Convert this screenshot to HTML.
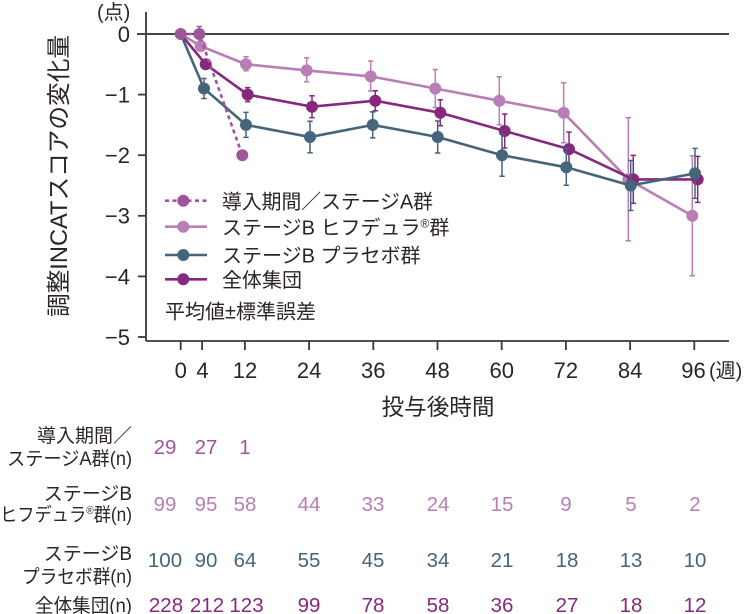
<!DOCTYPE html>
<html><head><meta charset="utf-8">
<style>
html,body{margin:0;padding:0;background:#fff;}
svg{display:block;}
text{font-family:"Liberation Sans","Noto Sans CJK JP",sans-serif;fill:#2b2624;}
.j{font-family:"Noto Sans CJK JP","Liberation Sans",sans-serif;}
</style></head><body>
<svg width="745" height="614" viewBox="0 0 745 614" xmlns="http://www.w3.org/2000/svg">
<!-- axes -->
<g stroke="#3d3735" stroke-width="1.8" fill="none">
<line x1="146" y1="12" x2="146" y2="341"/>
<line x1="146" y1="341" x2="729" y2="341"/>
<line x1="138" y1="94.6" x2="146" y2="94.6"/>
<line x1="138" y1="155.2" x2="146" y2="155.2"/>
<line x1="138" y1="215.8" x2="146" y2="215.8"/>
<line x1="138" y1="276.4" x2="146" y2="276.4"/>
<line x1="138" y1="337" x2="146" y2="337"/>
<line x1="180.7" y1="341" x2="180.7" y2="350"/>
<line x1="202.1" y1="341" x2="202.1" y2="350"/>
<line x1="244.9" y1="341" x2="244.9" y2="350"/>
<line x1="309.1" y1="341" x2="309.1" y2="350"/>
<line x1="373.3" y1="341" x2="373.3" y2="350"/>
<line x1="437.5" y1="341" x2="437.5" y2="350"/>
<line x1="501.7" y1="341" x2="501.7" y2="350"/>
<line x1="565.9" y1="341" x2="565.9" y2="350"/>
<line x1="630.1" y1="341" x2="630.1" y2="350"/>
<line x1="694.3" y1="341" x2="694.3" y2="350"/>
</g>
<line x1="137" y1="34" x2="729" y2="34" stroke="#4a4340" stroke-width="2"/>

<!-- y tick labels -->
<g font-size="22" text-anchor="end">
<text x="130" y="42">0</text>
<text x="130" y="102.5">−1</text>
<text x="130" y="163">−2</text>
<text x="130" y="223.7">−3</text>
<text x="130" y="284.3">−4</text>
<text x="130" y="345">−5</text>
</g>
<text x="97" y="19" font-size="20">(点)</text>
<text transform="translate(67,176) rotate(-90)" font-size="24" text-anchor="middle" textLength="282" lengthAdjust="spacingAndGlyphs">調整INCATスコアの変化量</text>

<!-- x tick labels -->
<g font-size="22" text-anchor="middle">
<text x="180.7" y="378">0</text>
<text x="202.5" y="378">4</text>
<text x="245" y="378">12</text>
<text x="309.1" y="378">24</text>
<text x="373.3" y="378">36</text>
<text x="437.5" y="378">48</text>
<text x="501.7" y="378">60</text>
<text x="565.9" y="378">72</text>
<text x="630.1" y="378">84</text>
<text x="693.5" y="378">96</text>
</g>
<text x="709" y="377.5" font-size="20">(週)</text>
<text x="438" y="415" font-size="22.5" text-anchor="middle" textLength="113" lengthAdjust="spacingAndGlyphs">投与後時間</text>

<!-- Hifdura series -->
<g stroke="#b77fb5" fill="#b77fb5">
<g stroke-width="1.5">
<path d="M200.7 41.6V49.6M198 41.6h5.4M198 49.6h5.4"/>
<path d="M246 56.8V70.8M243.3 56.8h5.4M243.3 70.8h5.4"/>
<path d="M306.7 57.9V81.9M304 57.9h5.4M304 81.9h5.4"/>
<path d="M370.7 61V91M368 61h5.4M368 91h5.4"/>
<path d="M435.3 69.5V107.5M432.6 69.5h5.4M432.6 107.5h5.4"/>
<path d="M499.3 76.7V124.7M496.6 76.7h5.4M496.6 124.7h5.4"/>
<path d="M563.7 82.8V142.8M561 82.8h5.4M561 142.8h5.4"/>
<path d="M628.3 117.8V240.8M625.6 117.8h5.4M625.6 240.8h5.4"/>
<path d="M692.3 155.8V275.8M689.6 155.8h5.4M689.6 275.8h5.4"/>
</g>
<polyline fill="none" stroke-width="2.6" points="180.7,34 200.7,46.1 246,64.3 306.7,70.4 370.7,76.4 435.3,88.5 499.3,100.7 563.7,112.8 628.3,179.4 692.3,215.8"/>
<g stroke="none">
<circle cx="200.7" cy="46.1" r="6"/><circle cx="246" cy="64.3" r="6"/><circle cx="306.7" cy="70.4" r="6"/><circle cx="370.7" cy="76.4" r="6"/><circle cx="435.3" cy="88.5" r="6"/><circle cx="499.3" cy="100.7" r="6"/><circle cx="563.7" cy="112.8" r="6"/><circle cx="628.3" cy="179.4" r="6"/><circle cx="692.3" cy="215.8" r="6"/>
</g>
</g>

<!-- Overall series -->
<g stroke="#86287e" fill="#86287e">
<g stroke-width="1.5">
<path d="M205.7 60.3V68.3M203 60.3h5.4M203 68.3h5.4"/>
<path d="M247.7 87.6V101.6M245 87.6h5.4M245 101.6h5.4"/>
<path d="M312 95.7V117.7M309.3 95.7h5.4M309.3 117.7h5.4"/>
<path d="M375.3 90.7V110.7M372.6 90.7h5.4M372.6 110.7h5.4"/>
<path d="M440.3 99.8V125.8M437.6 99.8h5.4M437.6 125.8h5.4"/>
<path d="M504.7 114V148M502 114h5.4M502 148h5.4"/>
<path d="M569 132.1V166.1M566.3 132.1h5.4M566.3 166.1h5.4"/>
<path d="M633.3 155.4V203.4M630.6 155.4h5.4M630.6 203.4h5.4"/>
<path d="M697.7 156.4V202.4M695 156.4h5.4M695 202.4h5.4"/>
</g>
<polyline fill="none" stroke-width="2.6" points="180.7,34 205.7,64.3 247.7,94.6 312,106.7 375.3,100.7 440.3,112.8 504.7,131 569,149.1 633.3,179.4 697.7,179.4"/>
<g stroke="none">
<circle cx="205.7" cy="64.3" r="6"/><circle cx="247.7" cy="94.6" r="6"/><circle cx="312" cy="106.7" r="6"/><circle cx="375.3" cy="100.7" r="6"/><circle cx="440.3" cy="112.8" r="6"/><circle cx="504.7" cy="131" r="6"/><circle cx="569" cy="149.1" r="6"/><circle cx="633.3" cy="179.4" r="6"/><circle cx="697.7" cy="179.4" r="6"/>
</g>
</g>

<!-- Placebo series -->
<g stroke="#44657a" fill="#44657a">
<g stroke-width="1.5">
<path d="M204 78.5V98.5M201.3 78.5h5.4M201.3 98.5h5.4"/>
<path d="M246 112.4V137.4M243.3 112.4h5.4M243.3 137.4h5.4"/>
<path d="M310 121.3V152.7M307.3 121.3h5.4M307.3 152.7h5.4"/>
<path d="M372.7 111.9V137.9M370 111.9h5.4M370 137.9h5.4"/>
<path d="M437.7 121V153M435 121h5.4M435 153h5.4"/>
<path d="M502 134.2V176.2M499.3 134.2h5.4M499.3 176.2h5.4"/>
<path d="M566.3 148.3V185.3M563.6 148.3h5.4M563.6 185.3h5.4"/>
<path d="M630.7 160.5V210.5M628 160.5h5.4M628 210.5h5.4"/>
<path d="M695 148.4V198.4M692.3 148.4h5.4M692.3 198.4h5.4"/>
</g>
<polyline fill="none" stroke-width="2.6" points="180.7,34 204,88.5 246,124.9 310,137 372.7,124.9 437.7,137 502,155.2 566.3,167.3 630.7,185.5 695,173.4"/>
<g stroke="none">
<circle cx="204" cy="88.5" r="6"/><circle cx="246" cy="124.9" r="6"/><circle cx="310" cy="137" r="6"/><circle cx="372.7" cy="124.9" r="6"/><circle cx="437.7" cy="137" r="6"/><circle cx="502" cy="155.2" r="6"/><circle cx="566.3" cy="167.3" r="6"/><circle cx="630.7" cy="185.5" r="6"/><circle cx="695" cy="173.4" r="6"/>
</g>
</g>

<!-- Stage A series -->
<g stroke="#a0559b" fill="#a0559b">
<path stroke-width="1.5" d="M199.3 26.5V41.5M196.6 26.5h5.4"/>
<polyline fill="none" stroke-width="2.6" stroke-dasharray="4,3.5" points="180.7,34 199.3,34 242.3,155.2"/>
<g stroke="none">
<circle cx="180.7" cy="34" r="6"/><circle cx="199.3" cy="34" r="6"/><circle cx="242.3" cy="155.2" r="6"/>
</g>
</g>

<!-- legend -->
<line x1="165" y1="200.7" x2="207" y2="200.7" stroke="#a0559b" stroke-width="2.6" stroke-dasharray="4,3.5"/>
<circle cx="183.3" cy="200.7" r="6" fill="#a0559b"/>
<line x1="165" y1="226.7" x2="207" y2="226.7" stroke="#b77fb5" stroke-width="2.6"/>
<circle cx="183.3" cy="226.7" r="6" fill="#b77fb5"/>
<line x1="165" y1="255" x2="207" y2="255" stroke="#44657a" stroke-width="2.6"/>
<circle cx="183.3" cy="255" r="6" fill="#44657a"/>
<line x1="165" y1="279.3" x2="207" y2="279.3" stroke="#86287e" stroke-width="2.6"/>
<circle cx="183.3" cy="279.3" r="6" fill="#86287e"/>
<g font-size="20">
<text x="222" y="208.5" textLength="211" lengthAdjust="spacingAndGlyphs">導入期間／ステージA群</text>
<text x="222" y="234.5">ステージB ヒフデュラ<tspan font-size="12" dy="-7">®</tspan><tspan dy="7">群</tspan></text>
<text x="222" y="262.5">ステージB プラセボ群</text>
<text x="222" y="287">全体集団</text>
<text x="165" y="318.5">平均値±標準誤差</text>
</g>

<!-- table labels -->
<g font-size="19" text-anchor="end">
<text x="132" y="442">導入期間／</text>
<text x="132" y="465" textLength="125" lengthAdjust="spacingAndGlyphs">ステージA群(n)</text>
<text x="132" y="500">ステージB</text>
<text x="132" y="521" textLength="132" lengthAdjust="spacingAndGlyphs">ヒフデュラ<tspan font-size="11" dy="-7">®</tspan><tspan dy="7">群(n)</tspan></text>
<text x="132" y="560">ステージB</text>
<text x="132" y="583" textLength="110" lengthAdjust="spacingAndGlyphs">プラセボ群(n)</text>
<text x="132" y="612" textLength="97" lengthAdjust="spacingAndGlyphs">全体集団(n)</text>
</g>

<!-- table numbers -->
<g font-size="20.5" text-anchor="middle">
<text x="165" y="454" style="fill:#a0559b">29</text>
<text x="206" y="454" style="fill:#a0559b">27</text>
<text x="245" y="454" style="fill:#a0559b">1</text>

<text x="165" y="511" style="fill:#b77fb5">99</text>
<text x="206" y="511" style="fill:#b77fb5">95</text>
<text x="245" y="511" style="fill:#b77fb5">58</text>
<text x="309" y="511" style="fill:#b77fb5">44</text>
<text x="373" y="511" style="fill:#b77fb5">33</text>
<text x="438" y="511" style="fill:#b77fb5">24</text>
<text x="502" y="511" style="fill:#b77fb5">15</text>
<text x="566" y="511" style="fill:#b77fb5">9</text>
<text x="631" y="511" style="fill:#b77fb5">5</text>
<text x="695" y="511" style="fill:#b77fb5">2</text>

<text x="165" y="567" style="fill:#44657a">100</text>
<text x="206" y="567" style="fill:#44657a">90</text>
<text x="245" y="567" style="fill:#44657a">64</text>
<text x="309" y="567" style="fill:#44657a">55</text>
<text x="373" y="567" style="fill:#44657a">45</text>
<text x="438" y="567" style="fill:#44657a">34</text>
<text x="502" y="567" style="fill:#44657a">21</text>
<text x="567" y="567" style="fill:#44657a">18</text>
<text x="631" y="567" style="fill:#44657a">13</text>
<text x="695" y="567" style="fill:#44657a">10</text>

<text x="166" y="612" style="fill:#86287e">228</text>
<text x="207" y="612" style="fill:#86287e">212</text>
<text x="246.5" y="612" style="fill:#86287e">123</text>
<text x="309" y="612" style="fill:#86287e">99</text>
<text x="373" y="612" style="fill:#86287e">78</text>
<text x="438" y="612" style="fill:#86287e">58</text>
<text x="502" y="612" style="fill:#86287e">36</text>
<text x="567" y="612" style="fill:#86287e">27</text>
<text x="631" y="612" style="fill:#86287e">18</text>
<text x="695" y="612" style="fill:#86287e">12</text>
</g>
</svg>
</body></html>
